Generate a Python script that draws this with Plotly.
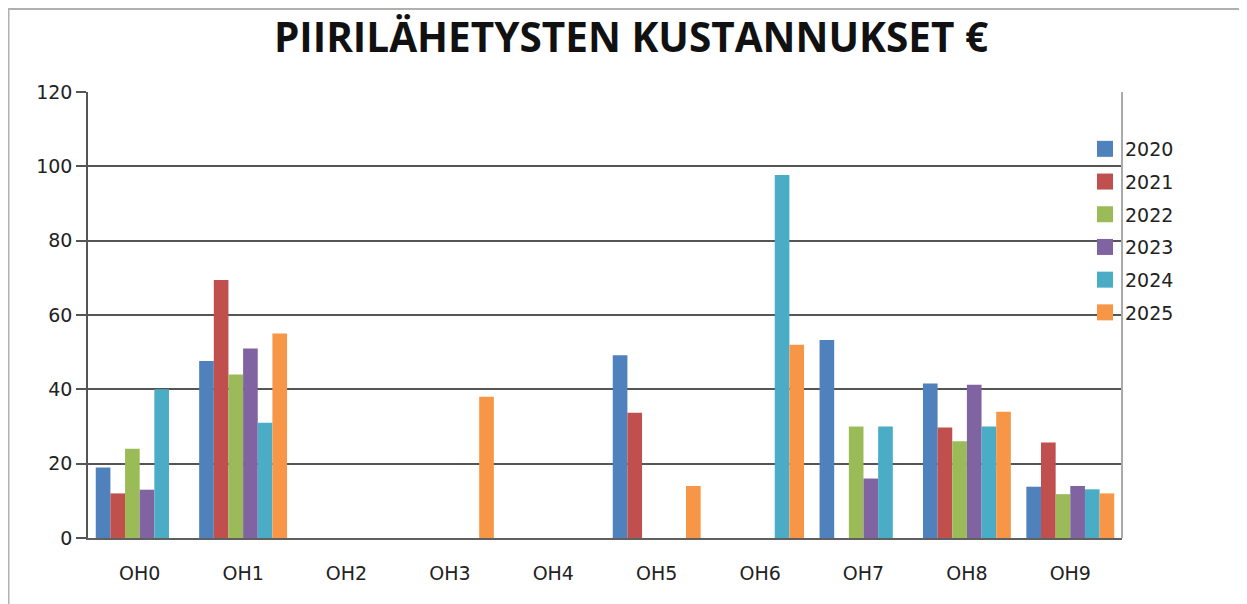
import plotly.graph_objects as go

categories = ["OH0", "OH1", "OH2", "OH3", "OH4", "OH5", "OH6", "OH7", "OH8", "OH9"]
years = ["2020", "2021", "2022", "2023", "2024", "2025"]

v2020 = [19, 47.6, None, None, None, 49.2, None, 53.3, 41.6, 13.8]
v2021 = [12, 69.4, None, None, None, 33.7, None, None, 29.7, 25.7]
v2022 = [24, 44, None, None, None, None, None, 30, 26, 11.8]
v2023 = [13, 51, None, None, None, None, None, 16, 41.2, 14]
v2024 = [40, 31, None, None, None, None, 97.7, 30, 30, 13.1]
v2025 = [None, 55, None, 38, None, 14, 52, None, 34, 12]

series = [v2020, v2021, v2022, v2023, v2024, v2025]
colors = ["#4F81BD", "#C0504D", "#9BBB59", "#8064A2", "#4BACC6", "#F79646"]

y_ticks = [0, 20, 40, 60, 80, 100, 120]

W, H = 1247, 604
OFF = 8  # page body margin
L, R, T, B = 88 - OFF, 1122 - OFF, 92 - OFF, 538 - OFF

fig = go.Figure()
for name, vals, col in zip(years, series, colors):
    fig.add_trace(go.Bar(x=categories, y=vals, name=name, marker_color=col,
                         marker_line_width=0, showlegend=False))
for name, col in zip(years, colors):
    fig.add_trace(go.Scatter(x=[None], y=[None], mode="markers", name=name,
                             legendgroup=name,
                             marker=dict(symbol="square", size=16, color=col)))

small = dict(family="DejaVu Sans", size=19, color="#222222")

def px_x(p):
    return (p - L) / (R - L)

def px_y(p):
    return (B - p) / (B - T)

fig.update_layout(
    width=W, height=H,
    margin=dict(l=L, r=W - R, t=T, b=H - B, pad=0),
    paper_bgcolor="white", plot_bgcolor="white",
    barmode="group", bargap=0.15, bargroupgap=0,
    title=dict(text="<b>PIIRILÄHETYSTEN KUSTANNUKSET €</b>",
               font=dict(family="Open Sans", size=40.5, color="#111111"),
               x=(631 - OFF) / W, xanchor="center", y=1 - (38 - OFF) / H, yanchor="middle"),
    font=small,
    legend=dict(x=px_x(1085 - OFF), xanchor="left", y=px_y(130 - OFF), yanchor="top",
                bgcolor="rgba(0,0,0,0)", font=small, tracegroupgap=5,
                itemwidth=30),
    xaxis=dict(showgrid=False, showline=True, linecolor="#606060", linewidth=1.5,
               ticks="", tickfont=small, ticklabelstandoff=17, zeroline=False),
    yaxis=dict(range=[0, 120], tickvals=y_ticks, showgrid=True,
               gridcolor="#555555", gridwidth=1.5, showline=True,
               linecolor="#555555", linewidth=1.5, ticks="outside", ticklen=10,
               tickcolor="#555555", tickwidth=1.5, tickfont=small, zeroline=False),
    shapes=[
        dict(type="line", xref="paper", yref="paper", x0=1, x1=1, y0=0, y1=1,
             line=dict(color="#aaaaaa", width=2)),
        dict(type="line", xref="paper", yref="paper", x0=px_x(0), x1=px_x(1260),
             y0=px_y(1), y1=px_y(1), line=dict(color="#b0b0b0", width=2)),
        dict(type="line", xref="paper", yref="paper", x0=px_x(0.5), x1=px_x(0.5),
             y0=px_y(0), y1=px_y(620), line=dict(color="#b0b0b0", width=2)),
    ],
)

fig.write_html("out.html")
